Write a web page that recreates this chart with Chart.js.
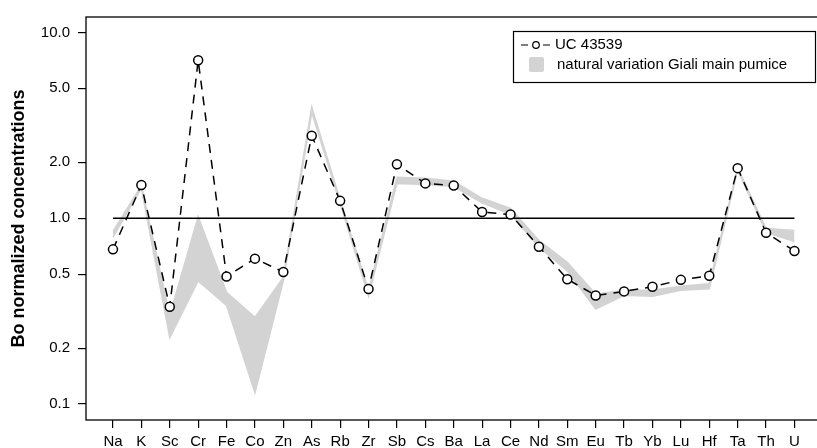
<!DOCTYPE html>
<html>
<head>
<meta charset="utf-8">
<script src="https://cdn.jsdelivr.net/npm/chart.js@4"></script>
<style>
  html, body { margin: 0; padding: 0; background: #fff; overflow: hidden; }
  #wrap { width: 828px; height: 448px; }
</style>
</head>
<body>
<div id="wrap"><canvas id="myChart" width="828" height="448"></canvas></div>
<script>
// element order along the x axis
const elements = ["Na", "K", "Sc", "Cr", "Fe", "Co", "Zn", "As", "Rb", "Zr", "Sb", "Cs", "Ba",
  "La", "Ce", "Nd", "Sm", "Eu", "Tb", "Yb", "Lu", "Hf", "Ta", "Th", "U"];

// UC 43539, Bo normalized
const uc43539 = [0.68, 1.51, 0.334, 7.08, 0.486, 0.606, 0.514, 2.78, 1.24, 0.416, 1.95, 1.54, 1.50,
  1.08, 1.047, 0.703, 0.47, 0.384, 0.404, 0.428, 0.466, 0.49, 1.86, 0.835, 0.667];

// natural variation Giali main pumice (upper / lower edge)
const bandUpper = [0.85, 1.50, 0.30, 1.02, 0.40, 0.293, 0.48, 3.97, 1.25, 0.41, 1.66, 1.64, 1.58,
  1.28, 1.13, 0.76, 0.58, 0.39, 0.41, 0.41, 0.43, 0.444, 1.87, 0.88, 0.86];
const bandLower = [0.79, 1.45, 0.228, 0.46, 0.34, 0.115, 0.46, 3.7, 1.20, 0.38, 1.54, 1.52, 1.48,
  1.21, 1.05, 0.70, 0.52, 0.325, 0.385, 0.38, 0.41, 0.417, 1.82, 0.84, 0.75];

const yTicks = [0.1, 0.2, 0.5, 1.0, 2.0, 5.0, 10.0];
const refLine = 1.0;

const FONT = "'Liberation Sans', Arial, Helvetica, sans-serif";
const GRAY = "#d3d3d3";

const toXY = (arr) => arr.map((v, i) => ({ x: i, y: v }));

// box round the plot + legend
const boxAndLegend = {
  id: "boxAndLegend",
  afterDraw(chart) {
    const ctx = chart.ctx;
    const a = chart.chartArea;
    ctx.save();
    ctx.strokeStyle = "#000";
    ctx.lineWidth = 1.3;
    ctx.strokeRect(a.left, a.top, a.right - a.left, a.bottom - a.top);

    // legend
    ctx.lineWidth = 1.2;
    ctx.strokeRect(513.5, 31.5, 302, 51);
    ctx.beginPath();
    ctx.moveTo(521, 45); ctx.lineTo(528, 45);
    ctx.moveTo(543, 45); ctx.lineTo(550, 45);
    ctx.stroke();
    ctx.beginPath();
    ctx.arc(536, 45, 3.3, 0, Math.PI * 2);
    ctx.fillStyle = "#fff";
    ctx.fill();
    ctx.stroke();
    ctx.fillStyle = GRAY;
    ctx.beginPath();
    ctx.roundRect(529, 57, 15, 15, 2);
    ctx.fill();

    ctx.fillStyle = "#000";
    ctx.font = "15px " + FONT;
    ctx.textBaseline = "middle";
    ctx.textAlign = "left";
    ctx.fillText("UC 43539", 555, 45);
    ctx.fillText("natural variation Giali main pumice", 557, 65);
    ctx.restore();
  }
};

new Chart(document.getElementById("myChart"), {
  type: "line",
  data: {
    datasets: [
      {
        label: "UC 43539",
        data: toXY(uc43539),
        borderColor: "#000",
        borderWidth: 1.5,
        borderDash: [9, 7],
        pointRadius: 4.5,
        pointBorderWidth: 1.5,
        pointBackgroundColor: "#fff",
        pointBorderColor: "#000",
        fill: false,
        tension: 0,
        order: 0
      },
      {
        label: "ref",
        data: [{ x: 0, y: refLine }, { x: elements.length - 1, y: refLine }],
        borderColor: "#000",
        borderWidth: 1.3,
        pointRadius: 0,
        fill: false,
        order: 1
      },
      {
        label: "upper",
        data: toXY(bandUpper),
        borderColor: GRAY,
        borderWidth: 1.5,
        backgroundColor: GRAY,
        pointRadius: 0,
        fill: "+1",
        tension: 0,
        order: 2
      },
      {
        label: "lower",
        data: toXY(bandLower),
        borderColor: GRAY,
        borderWidth: 1.5,
        pointRadius: 0,
        fill: false,
        tension: 0,
        order: 3
      }
    ]
  },
  options: {
    responsive: false,
    devicePixelRatio: 1,
    animation: false,
    layout: { padding: { top: 15, right: 0, bottom: 0, left: 0 } },
    plugins: { legend: { display: false }, tooltip: { enabled: false } },
    scales: {
      x: {
        type: "linear",
        min: -0.95,
        max: 24.97,
        afterBuildTicks: (axis) => { axis.ticks = elements.map((_, i) => ({ value: i })); },
        afterFit: (axis) => { axis.height = 28; },
        ticks: {
          callback: (v) => elements[v],
          color: "#000",
          font: { family: FONT, size: 15 },
          maxRotation: 0,
          autoSkip: false,
          padding: 5
        },
        grid: { drawOnChartArea: false, drawTicks: true, tickLength: 8, color: "#000", lineWidth: 1.2 },
        border: { display: false }
      },
      y: {
        type: "logarithmic",
        min: 0.0821,
        max: 12.1,
        afterBuildTicks: (axis) => { axis.ticks = yTicks.map((v) => ({ value: v })); },
        afterFit: (axis) => { axis.width = 86; },
        ticks: {
          callback: (v) => Number(v).toFixed(1),
          color: "#000",
          font: { family: FONT, size: 15 },
          padding: 8
        },
        grid: { drawOnChartArea: false, drawTicks: true, tickLength: 8, color: "#000", lineWidth: 1.2 },
        border: { display: false },
        title: {
          display: true,
          text: "Bo normalized concentrations",
          color: "#000",
          font: { family: FONT, size: 18, weight: "bold" },
          padding: { top: 8, bottom: 0 }
        }
      }
    }
  },
  plugins: [boxAndLegend]
});
</script>
</body>
</html>
